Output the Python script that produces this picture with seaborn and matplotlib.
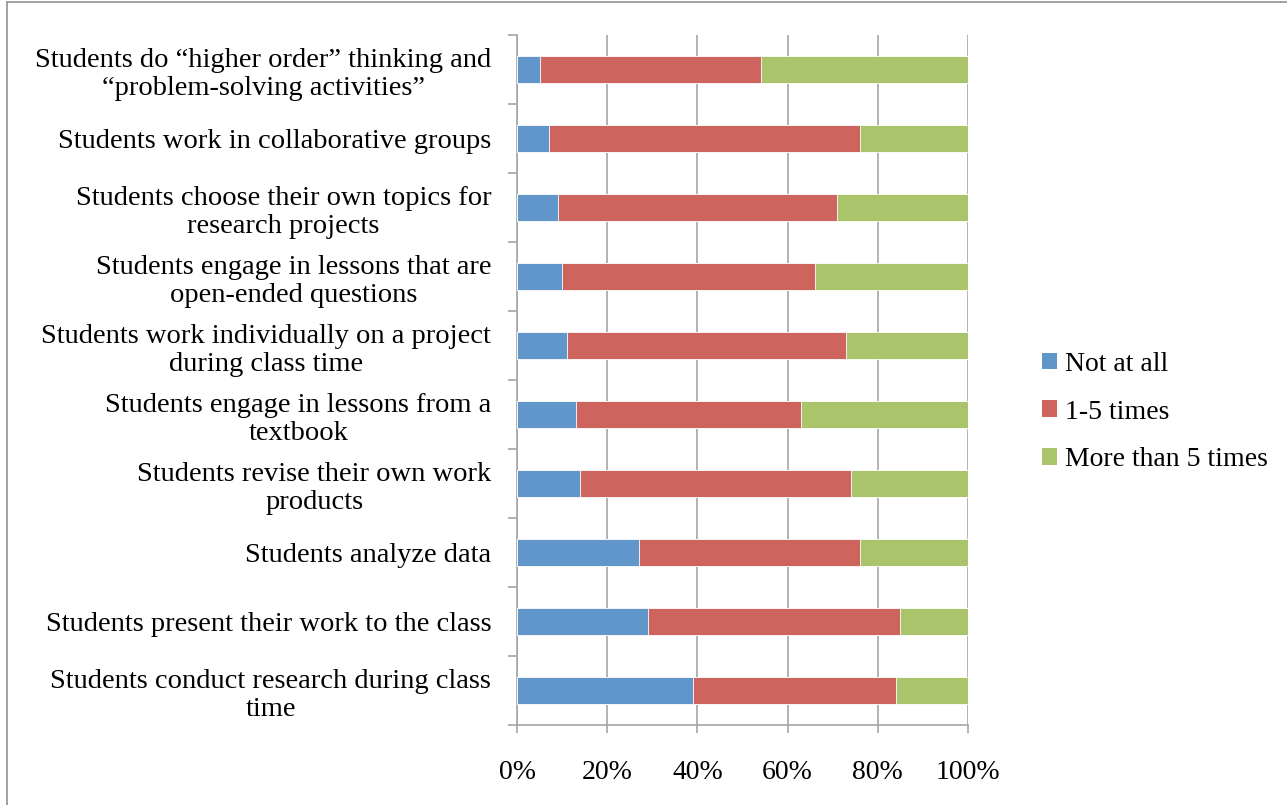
import numpy as np
import pandas as pd
import seaborn as sns
import matplotlib.pyplot as plt
from matplotlib.patches import Patch
from matplotlib.lines import Line2D

# Survey items (top to bottom) and the share of responses per frequency band (%)
activities = [
    "Students do \u201chigher order\u201d thinking and\n\u201cproblem-solving activities\u201d",
    "Students work in collaborative groups",
    "Students choose their own topics for\nresearch projects",
    "Students engage in lessons that are\nopen-ended questions",
    "Students work individually on a project\nduring class time",
    "Students engage in lessons from a\ntextbook",
    "Students revise their own work\nproducts",
    "Students analyze data",
    "Students present their work to the class",
    "Students conduct research during class\ntime",
]
not_at_all = [5, 7, 9, 10, 11, 13, 14, 27, 29, 39]
one_to_five = [49, 69, 62, 56, 62, 50, 60, 49, 56, 45]
more_than_five = [46, 24, 29, 34, 27, 37, 26, 24, 15, 16]

series_names = ["Not at all", "1-5 times", "More than 5 times"]
colors = ["#6096C9", "#CD655E", "#AAC46B"]
x_ticks = [0, 20, 40, 60, 80, 100]
x_tick_labels = ["0%", "20%", "40%", "60%", "80%", "100%"]

sns.set_theme(style="white")
plt.rcParams["font.family"] = ["Liberation Serif", "DejaVu Serif"]
plt.rcParams["text.color"] = "black"
plt.rcParams["xtick.labelcolor"] = "black"
plt.rcParams["ytick.labelcolor"] = "black"

FS = 20
FS_Y = 20.5
GRAY = "#a6a6a6"

fig = plt.figure(figsize=(12.87, 8.05), dpi=100)
ax = fig.add_axes([517 / 1287, 1 - 725 / 805, 451 / 1287, 690 / 805])

df = pd.DataFrame({
    "activity": activities,
    series_names[0]: not_at_all,
    series_names[1]: one_to_five,
    series_names[2]: more_than_five,
})
# cumulative totals so each layer covers the ones to its right
cum = df[series_names].cumsum(axis=1)
cum["activity"] = activities

for name, color in reversed(list(zip(series_names, colors))):
    sns.barplot(data=cum, x=name, y="activity", orient="h", color=color,
                saturation=1, width=0.4, edgecolor="white", linewidth=0.6,
                ax=ax, zorder=3)

ax.set_xlim(0, 100)
ax.set_ylim(len(activities) - 0.5, -0.5)
ax.set_xlabel("")
ax.set_ylabel("")

ax.set_xticks(x_ticks)
ax.set_xticklabels(x_tick_labels, fontsize=FS)
ax.xaxis.grid(True, color=GRAY, linewidth=1.2, zorder=0)
ax.yaxis.grid(False)
ax.set_axisbelow(True)

ax.set_yticks(range(len(activities)))
ax.set_yticklabels(activities, fontsize=FS_Y, ma="center", linespacing=1.2)
ax.set_yticks(np.arange(-0.5, len(activities), 1.0), minor=True)

ax.tick_params(axis="y", which="major", length=0, pad=18.5)
ax.tick_params(axis="y", which="minor", length=6.3, width=1.2, color=GRAY, left=True)
ax.tick_params(axis="x", which="major", length=5.5, width=1.2, color=GRAY,
               bottom=True, pad=20)

for side in ["top", "right"]:
    ax.spines[side].set_visible(False)
for side in ["left", "bottom"]:
    ax.spines[side].set_color(GRAY)
    ax.spines[side].set_linewidth(1.2)

handles = [Patch(facecolor=c, edgecolor="none", label=n) for n, c in zip(series_names, colors)]
fig.legend(handles=handles, loc="center left",
           bbox_to_anchor=(1031 / 1287, 1 - 412 / 805), frameon=False,
           fontsize=FS, handlelength=0.55, handleheight=0.55,
           handletextpad=0.28, labelspacing=0.82, borderaxespad=0,
           labelcolor="black")

# thin chart frame along the top and left edges
fig.add_artist(Line2D([7 / 1287, 7 / 1287], [0, 1 - 2 / 805],
                      transform=fig.transFigure, color="#9a9a9a", lw=1.3))
fig.add_artist(Line2D([7 / 1287, 1], [1 - 2 / 805, 1 - 2 / 805],
                      transform=fig.transFigure, color="#9a9a9a", lw=1.3))

fig.savefig("out.png", dpi=100)
